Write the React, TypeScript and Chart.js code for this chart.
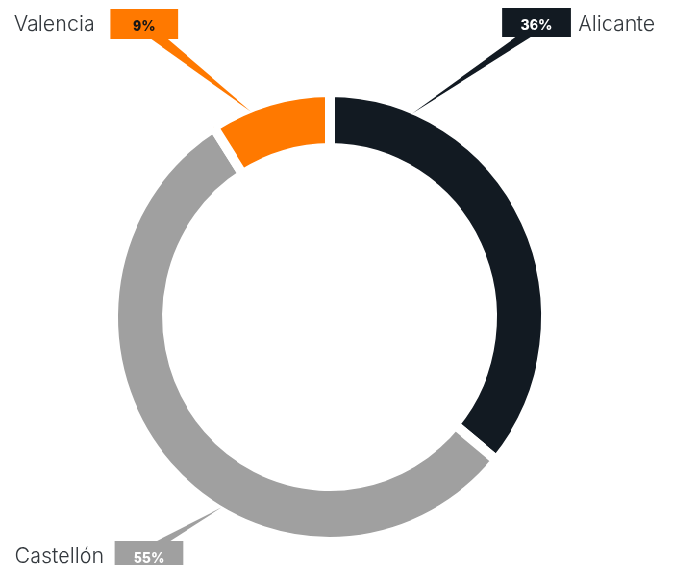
import { useEffect, useRef } from "react";
import { Chart, registerables } from "chart.js";

Chart.register(...registerables);

// ---- data ----
const regions = ["Alicante", "Castellón", "Valencia"];
const shares = [36, 55, 9];
const percentLabels = ["36%", "55%", "9%"];
const sliceColors = ["#121a22", "#a0a0a0", "#ff7900"];
const percentTextColors = ["#ffffff", "#ffffff", "#161616"];

// ---- layout (page pixels; the canvas is squeezed horizontally by SX) ----
const PAGE_W = 673;
const PAGE_H = 565;
const CANVAS_W = 700;
const SX = PAGE_W / CANVAS_W;
const BORDER = 10;

type Callout = {
  box: [number, number, number, number];
  base: [number, number];
  baseOnTop: boolean;
  tipFrac: number;
  labelX: number;
  labelY: number;
  align: CanvasTextAlign;
};

const callouts: Callout[] = [
  { box: [502, 8, 69, 29], base: [517, 532], baseOnTop: false, tipFrac: 0.177, labelX: 578, labelY: 31, align: "left" },
  { box: [115, 541, 68, 30], base: [155, 169], baseOnTop: true, tipFrac: 0.409, labelX: 104, labelY: 563, align: "right" },
  { box: [110, 9, 68, 30], base: [150, 167], baseOnTop: false, tipFrac: 0.327, labelX: 95, labelY: 31, align: "right" },
];

const px = (v: number) => v / SX;

const calloutPlugin = {
  id: "callouts",
  afterDatasetsDraw(chart: any) {
    const ctx: CanvasRenderingContext2D = chart.ctx;
    const meta = chart.getDatasetMeta(0);
    meta.data.forEach((arc: any, i: number) => {
      const c = callouts[i];
      if (!c) return;
      const { x, y, startAngle, endAngle, outerRadius } = arc.getProps(
        ["x", "y", "startAngle", "endAngle", "outerRadius"],
        true
      );
      const a = startAngle + c.tipFrac * (endAngle - startAngle);
      const r = outerRadius - BORDER / 2 + 1;
      const tx = x + Math.cos(a) * r;
      const ty = y + Math.sin(a) * r;
      const [bx, by, bw, bh] = c.box;
      const baseY = c.baseOnTop ? by + 1 : by + bh - 1;

      ctx.save();
      ctx.fillStyle = sliceColors[i];
      // pointer wedge
      ctx.beginPath();
      ctx.moveTo(px(c.base[0]), baseY);
      ctx.lineTo(px(c.base[1]), baseY);
      ctx.lineTo(tx, ty);
      ctx.closePath();
      ctx.fill();
      // box
      ctx.fillRect(px(bx), by, px(bx + bw) - px(bx), bh);
      // percent text
      ctx.fillStyle = percentTextColors[i];
      ctx.font = "800 14px Inter, 'Open Sans', sans-serif";
      ctx.textAlign = "center";
      ctx.textBaseline = "alphabetic";
      ctx.fillText(percentLabels[i], px(bx + bw / 2), by + 22);
      // region label
      ctx.fillStyle = "#33383d";
      ctx.font = "300 21.5px Inter, Lato, sans-serif";
      ctx.textAlign = c.align;
      ctx.fillText(regions[i], px(c.labelX), c.labelY);
      ctx.restore();
    });
  },
};

export default function App() {
  const canvasRef = useRef<HTMLCanvasElement | null>(null);

  useEffect(() => {
    document.body.style.overflow = "hidden";
    const canvas = canvasRef.current;
    if (!canvas) return;
    const chart = new Chart(canvas, {
      type: "doughnut",
      data: {
        labels: regions,
        datasets: [
          {
            data: shares,
            backgroundColor: sliceColors,
            borderColor: "#ffffff",
            borderWidth: BORDER,
            hoverOffset: 0,
          },
        ],
      },
      options: {
        responsive: false,
        animation: false,
        events: [],
        cutout: "75.1%",
        layout: { padding: { top: 87, bottom: 18, left: 113, right: 127 } },
        plugins: {
          legend: { display: false },
          tooltip: { enabled: false },
        },
      },
      plugins: [calloutPlugin],
    });
    return () => chart.destroy();
  }, []);

  return (
    <div
      style={{
        position: "fixed",
        left: 0,
        top: 0,
        width: CANVAS_W,
        height: PAGE_H,
        transform: `scaleX(${SX})`,
        transformOrigin: "0 0",
        background: "#ffffff",
      }}
    >
      <canvas ref={canvasRef} width={CANVAS_W} height={PAGE_H} style={{ display: "block" }} />
    </div>
  );
}
